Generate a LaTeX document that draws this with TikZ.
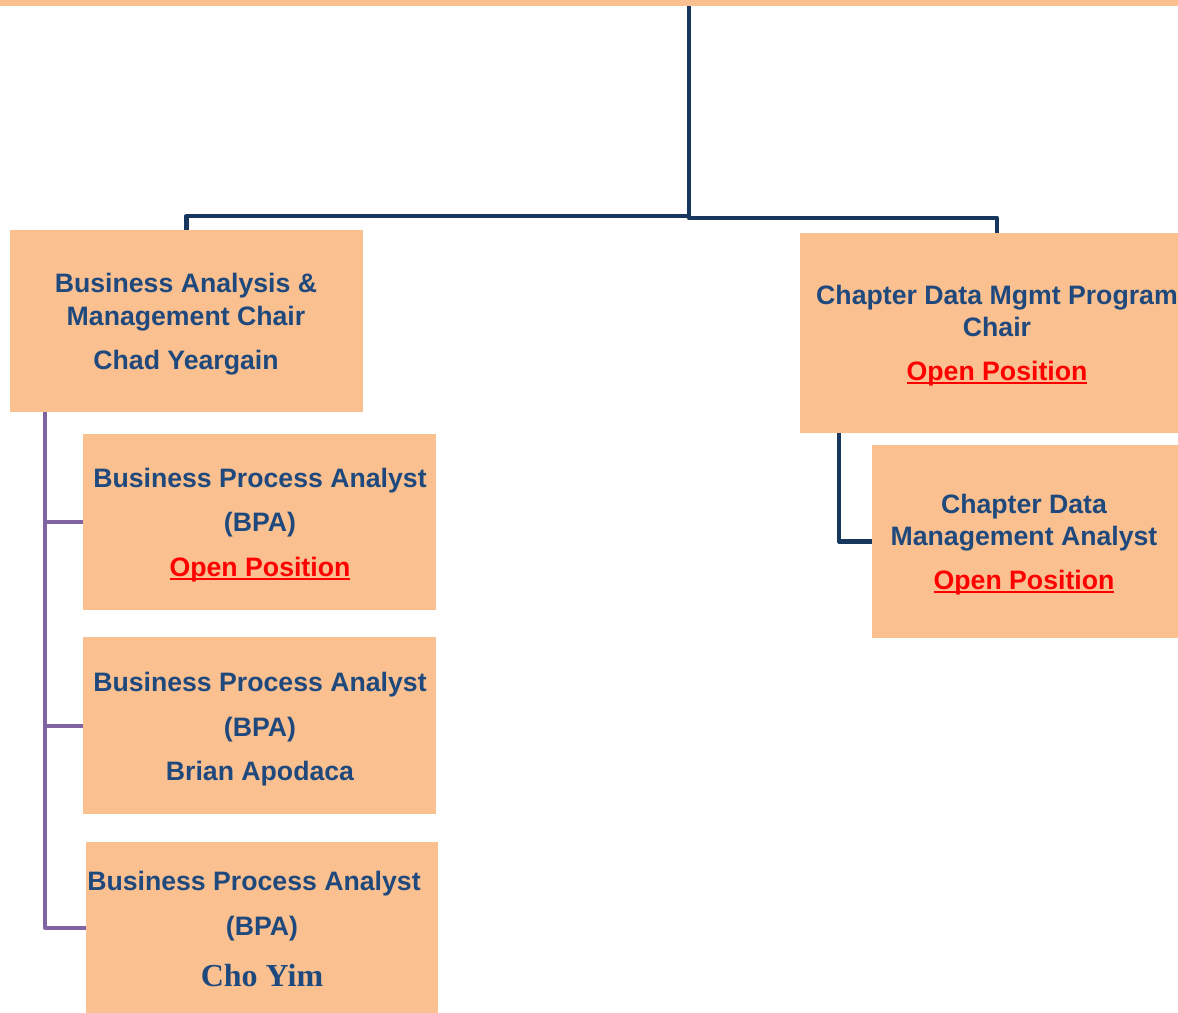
\documentclass[tikz,border=0pt]{standalone}
\usepackage{fontspec}
\setmainfont{Liberation Sans}
\newfontfamily\timesfont{Liberation Serif}
\definecolor{peach}{HTML}{FAC090}
\definecolor{navyline}{HTML}{17375E}
\definecolor{navytext}{HTML}{1F497D}
\definecolor{purpleline}{HTML}{8064A2}
\definecolor{openred}{HTML}{FF0000}
\newcommand\myul[1]{\setbox0\hbox{#1}\rlap{\raisebox{-3.2pt}{\rule{\wd0}{1.4pt}}}\box0}
\tikzset{
  box/.style={rectangle, fill=peach, draw=none, inner sep=0pt},
  lbl/.style={anchor=base, inner sep=0pt, text=navytext, font=\bfseries\fontsize{20}{22}\selectfont},
  open/.style={lbl, text=openred},
  serifname/.style={anchor=base, inner sep=0pt, text=navytext, font=\timesfont\bfseries\fontsize{24}{26}\selectfont},
  navyconn/.style={draw=navyline, line width=3.6pt, line join=round},
  purpleconn/.style={draw=purpleline, line width=3pt, line join=round}
}
\begin{document}
\begin{tikzpicture}[x=0.75pt, y=-0.75pt]
\useasboundingbox (0,0) rectangle (1178,1013);
\clip (0,0) rectangle (1178,1013);
% top bar
\node[box, minimum width=883.5pt, minimum height=4.5pt] (top) at (589,3) {};
% boxes
\node[box, minimum width=264.75pt, minimum height=136.5pt] (A) at (186.5,321) {};
\node[box, minimum width=295.5pt, minimum height=150pt] (B) at (997,333) {};
\node[box, minimum width=231pt, minimum height=144.75pt] (C) at (1026,541.5) {};
\node[box, minimum width=264.75pt, minimum height=132pt] (D1) at (259.5,522) {};
\node[box, minimum width=264.75pt, minimum height=132.75pt] (D2) at (259.5,725.5) {};
\node[box, minimum width=264pt, minimum height=128.25pt] (D3) at (262,927.5) {};
% connectors
\coordinate (root) at (689,6);
\coordinate (j) at (689,216);
\coordinate (bstem) at (839,433);
\coordinate (astem) at (45,412);
\draw[navyconn] (root) -- (j) -| (A.north);
\draw[navyconn] (j) -- (689,218) -| (B.north);
\draw[navyconn] (bstem) |- (C.west);
\draw[purpleconn] (astem) |- (D3.west);
\draw[purpleconn] (astem |- D1.west) -- (D1.west);
\draw[purpleconn] (astem |- D2.west) -- (D2.west);
% texts
\node[lbl] (a1) at (186,292.5) {Business Analysis \&};
\node[lbl] (a2) at (186,325) {Management Chair};
\node[lbl] (a3) at (186,369) {Chad Yeargain};
\node[lbl] (b1) at (997,304) {Chapter Data Mgmt Program};
\node[lbl] (b2) at (997,336) {Chair};
\node[open] (b3) at (997,380) {\myul{Open Position}};
\node[lbl] (c1) at (1024,513) {Chapter Data};
\node[lbl] (c2) at (1024,545) {Management Analyst};
\node[open] (c3) at (1024,589) {\myul{Open Position}};
\node[lbl] (d11) at (260,487) {Business Process Analyst};
\node[lbl] (d12) at (260,531.5) {(BPA)};
\node[open] (d13) at (260,576) {\myul{Open Position}};
\node[lbl] (d21) at (260,691) {Business Process Analyst};
\node[lbl] (d22) at (260,736) {(BPA)};
\node[lbl] (d23) at (260,780) {Brian Apodaca};
\node[lbl] (d31) at (254,890) {Business Process Analyst};
\node[lbl] (d32) at (262,935) {(BPA)};
\node[serifname] (d33) at (262,986) {Cho Yim};
\end{tikzpicture}
\end{document}
